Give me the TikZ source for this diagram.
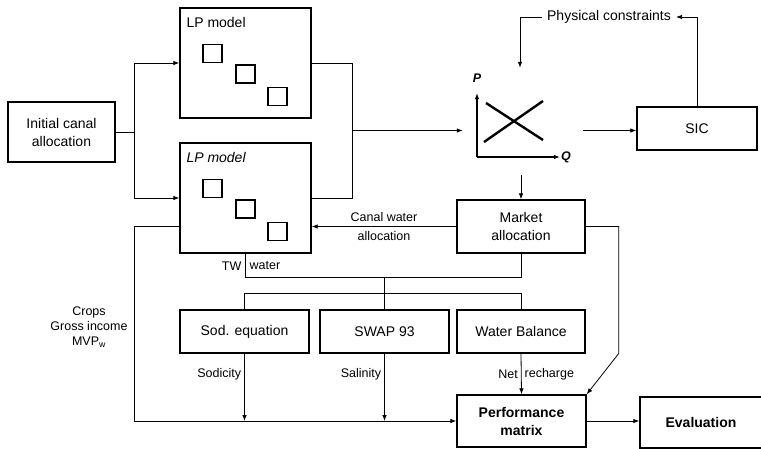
\documentclass[tikz,border=0pt]{standalone}
\usepackage{fontspec}
\setmainfont{Liberation Sans}
\usetikzlibrary{arrows.meta,positioning,calc}
\tikzset{
  box/.style={draw,line width=1.4pt,minimum width=129pt,minimum height=43pt,align=center,
    inner sep=2pt,font=\fontsize{14}{18}\selectfont},
  lpbox/.style={draw,line width=1.4pt,minimum width=131pt,minimum height=110pt},
  cell/.style={draw,line width=1.3pt,minimum width=19pt,minimum height=18pt,inner sep=0pt},
  lbl/.style={inner sep=1pt,font=\fontsize{12.5}{15}\selectfont},
  conn/.style={line width=0.8pt},
  arrow/.style={-{Latex[length=6pt,width=4.5pt]},line width=0.8pt},
  axis/.style={-{Latex[length=6pt,width=4.5pt]},line width=1.3pt}
}
\begin{document}
\begin{tikzpicture}[x=1pt,y=-1pt]
\useasboundingbox (0,0) rectangle (761,448);
% models
\node[box,minimum width=107pt,minimum height=60pt] (init) at (61.5,132) {Initial canal\\allocation};
\node[lpbox] (lpa) at (245.5,63) {};
\node[lpbox] (lpb) at (245.5,198) {};
\node[lbl,font=\fontsize{14}{16}\selectfont,anchor=north west] at ([xshift=6pt,yshift=-9pt]lpa.north west) {LP model};
\node[lbl,font=\fontsize{14}{16}\selectfont\itshape,anchor=north west] at ([xshift=6pt,yshift=-9pt]lpb.north west) {LP model};
\foreach \m in {lpa,lpb}{
  \foreach \dx/\dy in {-33/-9.5,0/11,32/33.5}
    \node[cell] at ($(\m.center)+(\dx,\dy)$) {};
}
\coordinate (split) at ([xshift=19pt]init.east);
\draw[conn] (init.east) -- (split);
\draw[arrow] (split |- lpa.west) |- (lpa.west);
\draw[arrow] (split |- lpa.west) -- (split |- lpb.west) -- (lpb.west);
% price graph
\node[minimum width=120pt,minimum height=107pt,inner sep=0pt] (pq) at (523,121.5) {};
\coordinate (orig) at (477,157);
\draw[axis] (orig) -- (477,93);
\draw[axis] (orig) -- (560,157);
\node[lbl,font=\fontsize{12.5}{15}\selectfont\bfseries\itshape] at (477,78) {P};
\node[lbl,font=\fontsize{12.5}{15}\selectfont\bfseries\itshape,anchor=west] at (560,157) {Q};
\draw[line width=2.4pt] (484,142) -- (543,101);
\draw[line width=2.4pt] (486,103) -- (543,140);
\coordinate (join) at ($(lpa.east)!0.5!(lpb.east)+(41,0)$);
\draw[conn] (lpa.east) -| (join) |- (lpb.east);
\draw[arrow] (join) -- (join -| pq.west);
% sic and constraints
\node[box,minimum width=120pt] (sic) at (697,128.5) {SIC};
\node[lbl,font=\fontsize{14}{16}\selectfont,inner sep=5pt] (phys) at (609,17) {Physical constraints};
\draw[arrow] (join -| pq.east) -- (join -| sic.west);
\draw[arrow] (sic.north) |- (phys.east);
\draw[arrow] (phys.west) -| ([xshift=-3pt]pq.north);
% market
\node[box,minimum width=128pt,minimum height=53pt] (market) at (521,226.5) {Market\\allocation};
\draw[arrow] (pq.south -| market) -- (market.north);
\draw[arrow] (market.west) -- (market.west -| lpb.east)
  node[lbl,pos=0.5,above=3pt] {Canal water}
  node[lbl,pos=0.5,below=4pt] {allocation};
% simulation models
\node[box] (sod) at (244.5,331.5) {Sod. equation};
\node[box] (swap) at (384.5,331.5) {SWAP 93};
\node[box,minimum width=128pt] (wbal) at (521,331.5) {Water Balance};
\coordinate (tw) at (0,277);
\coordinate (dist) at (0,293);
\draw[conn] (lpb.south) |- (market.south |- tw) -- (market.south);
\node[lbl,anchor=east] at ([xshift=-3pt,yshift=-12pt]lpb.south) {TW};
\node[lbl,anchor=west] at ([xshift=3pt,yshift=-12pt]lpb.south) {water};
\draw[conn] (swap.north |- tw) -- (swap.north);
\draw[conn] (sod.north) |- (wbal.north |- dist) -- (wbal.north);
% performance
\node[box,font=\fontsize{14}{18}\selectfont\bfseries,minimum height=52pt] (perf) at (521.5,421) {Performance\\matrix};
\node[box,font=\fontsize{14}{18}\selectfont\bfseries,minimum width=122pt,minimum height=51pt] (eval) at (701,422.5) {Evaluation};
\draw[arrow] (sod.south) -- (sod.south |- perf.west) node[lbl,pos=0.3,left=2pt] {Sodicity};
\draw[arrow] (swap.south) -- (swap.south |- perf.west) node[lbl,pos=0.3,left=2pt] {Salinity};
\draw[arrow] (wbal.south) -- (perf.north)
  node[lbl,pos=0.5,left=2pt] {Net}
  node[lbl,pos=0.5,right=2pt] {recharge};
\draw[arrow] (lpb.west |- market.west) -| (split |- perf.west) -- (perf.west);
\node[lbl,align=center] (crops) at (89,327) {Crops\\Gross income\\MVP\textsubscript{w}};
\draw[arrow] (market.east) -- ++(33,0) -- ++(0,127) -- (perf.north east);
\draw[arrow] (perf.east) -- (perf.east -| eval.west);
\end{tikzpicture}
\end{document}
